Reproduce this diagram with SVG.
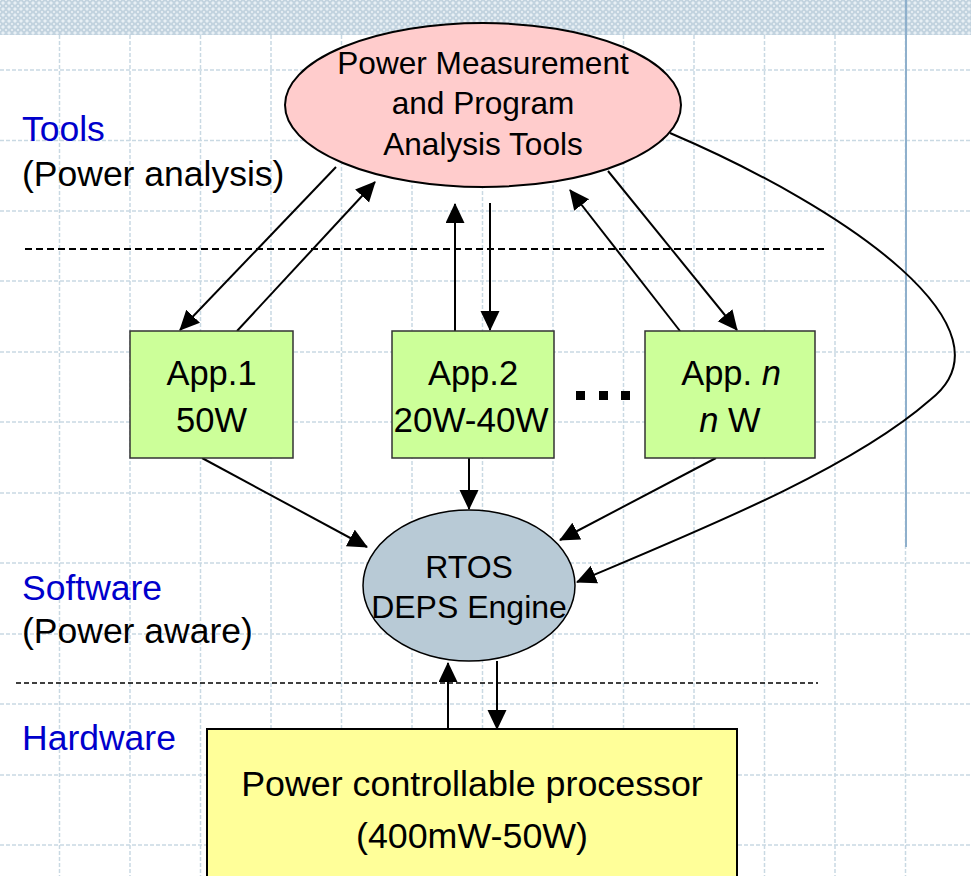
<svg xmlns="http://www.w3.org/2000/svg" width="971" height="876" viewBox="0 0 971 876">
  <defs>
    <pattern id="band" width="6" height="6" patternUnits="userSpaceOnUse">
      <rect width="6" height="6" fill="#C2D3DF"/>
      <path d="M3,1 L5,3 L3,5 L1,3 Z" fill="#E8F0F5"/>
      <circle cx="0" cy="0" r="0.9" fill="#F4F8FA"/>
      <circle cx="6" cy="0" r="0.9" fill="#F4F8FA"/>
      <circle cx="0" cy="6" r="0.9" fill="#F4F8FA"/>
      <circle cx="6" cy="6" r="0.9" fill="#F4F8FA"/>
    </pattern>
    <marker id="arrow" markerUnits="userSpaceOnUse" markerWidth="20" markerHeight="20" refX="19" refY="9.5" orient="auto">
      <path d="M0,0 L20,9.5 L0,19 Z" fill="#000"/>
    </marker>
  </defs>
  <style>
    .grid { stroke: #C9D9E3; stroke-width: 1.5; stroke-dasharray: 4 2; fill: none; }
    .label { font-family: "Liberation Sans", Arial, sans-serif; font-size: 35.5px; }
    .blue { fill: #0000CC; }
    .node-text { font-family: "Liberation Sans", Arial, sans-serif; fill: #000; text-anchor: middle; }
    .app rect { fill: #CCFF99; stroke: #333; stroke-width: 1.5; }
    .conn { stroke: #000; stroke-width: 2; fill: none; }
    .conn .arr { marker-end: url(#arrow); }
    .divider { stroke: #000; fill: none; }
  </style>

  <!-- page background -->
  <rect width="971" height="876" fill="#FFFFFF"/>

  <!-- background grid -->
  <g class="grid">
    <path d="M59.5,35 V876 M130,35 V876 M200.5,35 V876 M271,35 V876 M341.5,35 V876 M412,35 V876 M482.5,35 V876 M553,35 V876 M623.5,35 V876 M694,35 V876 M764.5,35 V876 M835,35 V876"/>
    <path d="M0,70 H971 M0,140.5 H971 M0,211 H971 M0,281 H971 M0,352 H971 M0,422 H971 M0,493 H971 M0,563 H971 M0,634 H971 M0,704 H971 M0,775 H971 M0,845 H971"/>
  </g>
  <path d="M905.5,35 V876" class="grid"/>

  <!-- top band -->
  <rect x="0" y="0" width="971" height="35" fill="url(#band)"/>
  <!-- vertical rule -->
  <line x1="906" y1="0" x2="906" y2="547" stroke="#8FB0CC" stroke-width="2"/>

  <!-- layer dividers -->
  <line class="divider" x1="25" y1="249" x2="826" y2="249" stroke-width="2" stroke-dasharray="7 4"/>
  <line class="divider" x1="16" y1="683" x2="818" y2="683" stroke-width="1.5" stroke-dasharray="5 3"/>

  <!-- layer labels -->
  <g id="layer-labels" class="label">
    <text x="22" y="141" class="blue">Tools</text>
    <text x="22" y="186">(Power analysis)</text>
    <text x="22" y="600" class="blue">Software</text>
    <text x="22" y="643">(Power aware)</text>
    <text x="22" y="750" class="blue">Hardware</text>
  </g>

  <!-- connectors -->
  <g id="connectors" class="conn">
    <line class="arr" x1="336" y1="167" x2="180" y2="330"/>
    <line class="arr" x1="237" y1="331" x2="375" y2="182"/>
    <line class="arr" x1="455" y1="331" x2="455" y2="204"/>
    <line class="arr" x1="490" y1="203" x2="490" y2="330"/>
    <line class="arr" x1="680" y1="331" x2="570" y2="190"/>
    <line class="arr" x1="608" y1="171" x2="737" y2="330"/>
    <path class="arr" d="M670,133 C850,210 1020,330 930,400 C850,470 700,530 577,582"/>
    <line class="arr" x1="202" y1="458" x2="367" y2="547"/>
    <line class="arr" x1="469" y1="458" x2="469" y2="509"/>
    <line class="arr" x1="716" y1="458" x2="560" y2="540"/>
    <line class="arr" x1="448" y1="729" x2="448" y2="663"/>
    <line class="arr" x1="497" y1="661" x2="497" y2="729"/>
  </g>

  <!-- tools node -->
  <g id="tools">
    <ellipse cx="483" cy="105" rx="198" ry="82" fill="#FFCCCC" stroke="#000" stroke-width="2"/>
    <text class="node-text" font-size="31.6" x="483" y="74">Power Measurement</text>
    <text class="node-text" font-size="31.6" x="483" y="114">and Program</text>
    <text class="node-text" font-size="31.6" x="483" y="155">Analysis Tools</text>
  </g>

  <!-- applications -->
  <g id="app1" class="app">
    <rect x="130" y="331" width="163" height="127"/>
    <text class="node-text" font-size="34.5" x="211.5" y="385">App.1</text>
    <text class="node-text" font-size="34.5" x="211.5" y="432">50W</text>
  </g>
  <g id="app2" class="app">
    <rect x="392" y="331" width="162" height="127"/>
    <text class="node-text" font-size="34.5" x="473" y="385">App.2</text>
    <text class="node-text" font-size="35" x="471" y="432">20W-40W</text>
  </g>
  <g id="ellipsis" fill="#000">
    <rect x="576" y="391" width="9" height="9"/>
    <rect x="599" y="391" width="9" height="9"/>
    <rect x="621" y="391" width="9" height="9"/>
  </g>
  <g id="appn" class="app">
    <rect x="645" y="331" width="170" height="127"/>
    <text class="node-text" font-size="34.5" x="731" y="385">App. <tspan font-style="italic">n</tspan></text>
    <text class="node-text" font-size="34.5" x="730" y="432"><tspan font-style="italic">n</tspan> W</text>
  </g>

  <!-- RTOS node -->
  <g id="rtos">
    <ellipse cx="469" cy="585.5" rx="106" ry="75.5" fill="#B8CAD6" stroke="#000" stroke-width="1.5"/>
    <text class="node-text" font-size="32" x="469" y="578">RTOS</text>
    <text class="node-text" font-size="32" x="469" y="618">DEPS Engine</text>
  </g>

  <!-- hardware node -->
  <g id="processor">
    <rect x="207" y="729" width="530" height="160" fill="#FFFF99" stroke="#000" stroke-width="2"/>
    <text class="node-text" font-size="35.8" x="472" y="796">Power controllable processor</text>
    <text class="node-text" font-size="35.8" x="472" y="848">(400mW-50W)</text>
  </g>
</svg>
